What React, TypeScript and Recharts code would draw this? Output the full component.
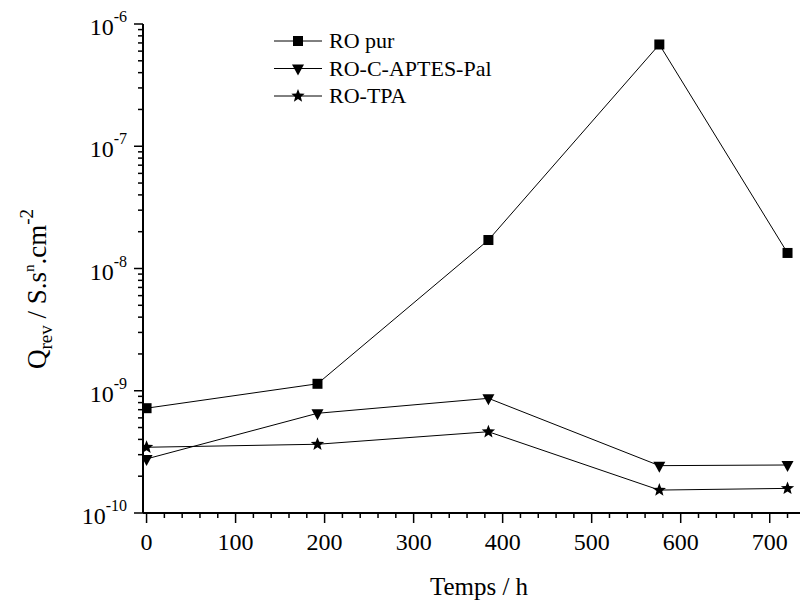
import React from 'react';
import { LineChart, Line, XAxis, YAxis, Legend } from 'recharts';

const timeH = [0, 192, 384, 576, 720];
const roPur = [7.2e-10, 1.14e-9, 1.71e-8, 6.8e-7, 1.34e-8];
const roAptes = [2.77e-10, 6.54e-10, 8.67e-10, 2.44e-10, 2.47e-10];
const roTpa = [3.45e-10, 3.65e-10, 4.62e-10, 1.54e-10, 1.59e-10];

const seriesNames = ['RO pur', 'RO-C-APTES-Pal', 'RO-TPA'];
const xTicks: number[] = [];
for (let v = 0; v <= 740; v += 20) xTicks.push(v);
const yTicks: number[] = [];
for (let e = -10; e <= -6; e++) {
  for (let m = 1; m <= 9; m++) {
    if (e === -6 && m > 1) break;
    yTicks.push(m * Math.pow(10, e));
  }
}

const data = timeH.map((t, i) => ({ t, pur: roPur[i], aptes: roAptes[i], tpa: roTpa[i] }));

const FONT = '"Liberation Serif", "Times New Roman", serif';

const starPoints = (cx: number, cy: number, ro: number, ri: number) => {
  const pts: string[] = [];
  for (let k = 0; k < 10; k++) {
    const r = k % 2 === 0 ? ro : ri;
    const a = -Math.PI / 2 + (k * Math.PI) / 5;
    pts.push(`${cx + r * Math.cos(a)},${cy + r * Math.sin(a)}`);
  }
  return pts.join(' ');
};

const Marker = ({ kind, cx, cy }: { kind: number; cx: number; cy: number }) => {
  if (kind === 0) return <rect x={cx - 5} y={cy - 5} width={10} height={10} fill="#000" />;
  if (kind === 1)
    return <polygon points={`${cx - 6},${cy - 4} ${cx + 6},${cy - 4} ${cx},${cy + 7}`} fill="#000" />;
  return <polygon points={starPoints(cx, cy, 7, 3)} fill="#000" />;
};

const makeDot = (kind: number) => (props: any) => {
  const { cx, cy, index } = props;
  if (cx == null || cy == null) return <g key={`d${kind}-${index}`} />;
  return (
    <g key={`d${kind}-${index}`}>
      <Marker kind={kind} cx={cx} cy={cy} />
    </g>
  );
};

const XTick = (props: any) => {
  const { x, y, payload } = props;
  const v = payload.value;
  const major = v % 100 === 0;
  return (
    <g>
      <line x1={x} x2={x} y1={y} y2={y + (major ? 10 : 5)} stroke="#000" strokeWidth={1.5} />
      {major && (
        <text x={x} y={y + 37} textAnchor="middle" fontSize={24} fontFamily={FONT} fill="#000">
          {v}
        </text>
      )}
    </g>
  );
};

const TopTick = (props: any) => {
  const { x, y } = props;
  return <line x1={x} x2={x} y1={y} y2={y + 3} stroke="#000" strokeWidth={1} />;
};

const YTick = (props: any) => {
  const { x, y, payload } = props;
  const v = payload.value;
  const lg = Math.log10(v);
  const e = Math.round(lg);
  const major = Math.abs(lg - e) < 1e-6;
  return (
    <g>
      <line x1={x - (major ? 9 : 5)} x2={x} y1={y} y2={y} stroke="#000" strokeWidth={1.5} />
      {major && (
        <text x={x - 16} y={y + 11} textAnchor="end" fontSize={24} fontFamily={FONT} fill="#000">
          <tspan>10</tspan>
          <tspan dy={-13} fontSize={16}>{`${e}`}</tspan>
        </text>
      )}
    </g>
  );
};

const YLabel = () => (
  <text
    x={38}
    y={281}
    transform="rotate(-90, 38, 281)"
    textAnchor="middle"
    fontFamily={FONT}
    fontSize={27}
    fill="#000"
  >
    <tspan>Q</tspan>
    <tspan dy={6} fontSize={19}>rev</tspan>
    <tspan dy={-6}> / S.s</tspan>
    <tspan dy={-12} fontSize={15}>n</tspan>
    <tspan dy={12}>.cm</tspan>
    <tspan dy={-13} fontSize={19}>-2</tspan>
  </text>
);

const XLabel = () => (
  <text x={471} y={587} textAnchor="middle" fontFamily={FONT} fontSize={25} fill="#000">
    Temps / h
  </text>
);

const LegendBox = () => (
  <svg width={300} height={90} style={{ display: 'block' }}>
    {seriesNames.map((name, i) => {
      const cy = 15 + i * 27.5;
      return (
        <g key={name}>
          <line x1={0} x2={48} y1={cy} y2={cy} stroke="#000" strokeWidth={1} />
          <Marker kind={i} cx={24} cy={cy} />
          <text x={55} y={cy + 7} fontSize={22} fontFamily={FONT} fill="#000">
            {name}
          </text>
        </g>
      );
    })}
  </svg>
);

export default function App() {
  return (
    <div style={{ width: 800, height: 596, overflow: 'hidden' }}>
      <LineChart width={800} height={596} data={data} margin={{ top: 16, right: 0, bottom: 0, left: 0 }}>
        <XAxis
          dataKey="t"
          type="number"
          domain={[-4, 743]}
          ticks={xTicks}
          interval={0}
          allowDataOverflow
          height={91}
          tickSize={0}
          tickMargin={0}
          tickLine={false}
          axisLine={{ stroke: '#000', strokeWidth: 2 }}
          tick={(p: any) => <XTick {...p} />}
          label={{ content: () => <XLabel /> }}
        />
        <XAxis
          xAxisId="top"
          orientation="top"
          dataKey="t"
          type="number"
          domain={[-4, 743]}
          ticks={xTicks}
          interval={0}
          allowDataOverflow
          height={0}
          tickSize={0}
          tickMargin={0}
          tickLine={false}
          axisLine={{ stroke: '#000', strokeWidth: 2 }}
          tick={(p: any) => <TopTick {...p} />}
        />
        <YAxis
          type="number"
          scale="log"
          domain={[1e-10, 1e-6]}
          ticks={yTicks}
          interval={0}
          allowDataOverflow
          width={135}
          tickSize={0}
          tickMargin={0}
          tickLine={false}
          axisLine={{ stroke: '#000', strokeWidth: 2 }}
          tick={(p: any) => <YTick {...p} />}
          label={{ content: () => <YLabel /> }}
        />
        <Legend
          layout="horizontal"
          verticalAlign="middle"
          align="center"
          content={() => <LegendBox />}
          wrapperStyle={{ top: 18, left: 266, width: 300, height: 90 }}
        />
        <Line dataKey="pur" stroke="#000" strokeWidth={1} dot={makeDot(0)} isAnimationActive={false} />
        <Line dataKey="aptes" stroke="#000" strokeWidth={1} dot={makeDot(1)} isAnimationActive={false} />
        <Line dataKey="tpa" stroke="#000" strokeWidth={1} dot={makeDot(2)} isAnimationActive={false} />
      </LineChart>
    </div>
  );
}
